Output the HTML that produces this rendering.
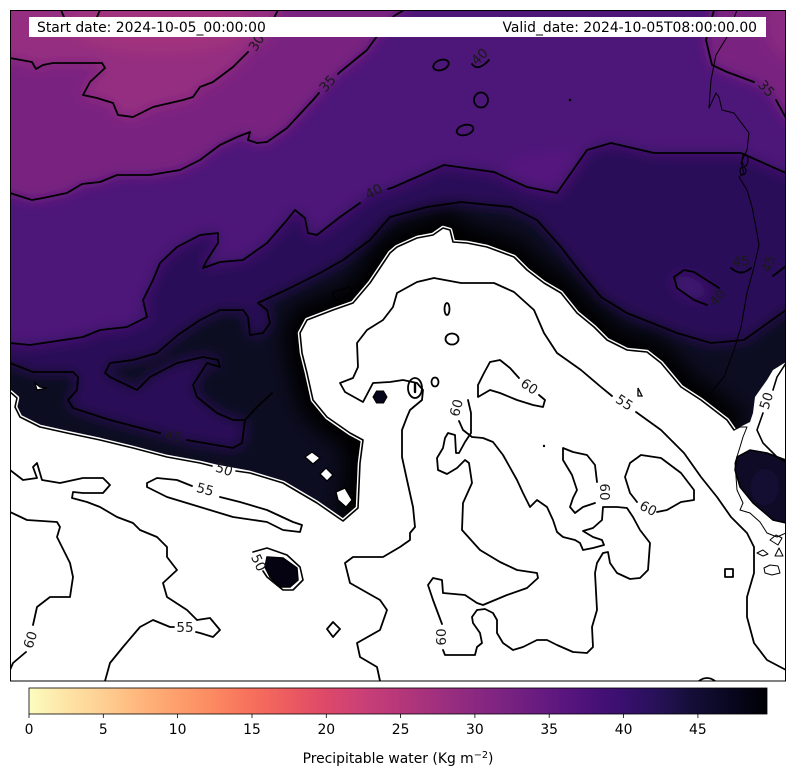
<!DOCTYPE html>
<html><head><meta charset="utf-8">
<style>
html,body{margin:0;padding:0;background:#fff;}
svg{display:block;}
text{font-family:"DejaVu Sans","Liberation Sans",sans-serif;}
</style></head>
<body>
<svg width="794" height="780" viewBox="0 0 794 780" xmlns="http://www.w3.org/2000/svg">
<defs>
  <clipPath id="mapclip"><rect x="10" y="10" width="776" height="671"/></clipPath>
  <filter id="blur" x="-20%" y="-20%" width="140%" height="140%"><feGaussianBlur stdDeviation="7"/></filter>
  <filter id="blur2" x="-20%" y="-20%" width="140%" height="140%"><feGaussianBlur stdDeviation="10"/></filter>
  <linearGradient id="cbar" x1="0" y1="0" x2="1" y2="0">
    <stop offset="0" stop-color="#fcfdbf"/>
    <stop offset="0.05" stop-color="#fde4a6"/>
    <stop offset="0.1" stop-color="#fecf92"/>
    <stop offset="0.15" stop-color="#feb67c"/>
    <stop offset="0.2" stop-color="#fe9f6d"/>
    <stop offset="0.25" stop-color="#fc8961"/>
    <stop offset="0.3" stop-color="#f7705c"/>
    <stop offset="0.35" stop-color="#ec5c60"/>
    <stop offset="0.4" stop-color="#de4968"/>
    <stop offset="0.45" stop-color="#cb4077"/>
    <stop offset="0.5" stop-color="#b73779"/>
    <stop offset="0.55" stop-color="#a1307e"/>
    <stop offset="0.6" stop-color="#8c2981"/>
    <stop offset="0.65" stop-color="#782281"/>
    <stop offset="0.7" stop-color="#641a80"/>
    <stop offset="0.75" stop-color="#4f127b"/>
    <stop offset="0.8" stop-color="#3b0f70"/>
    <stop offset="0.85" stop-color="#271159"/>
    <stop offset="0.9" stop-color="#140e36"/>
    <stop offset="0.95" stop-color="#090720"/>
    <stop offset="1" stop-color="#000004"/>
  </linearGradient>
</defs>

<g clip-path="url(#mapclip)">
  <!-- smooth field -->
  <g filter="url(#blur)">
    <rect x="-40" y="-40" width="880" height="780" fill="#4e1479"/>
    <ellipse cx="560" cy="175" rx="60" ry="25" fill="#55167e"/>
    <path fill="#7a2380" d="M-30,-30 L410,-30 L404,10 L394,16 L380,32 L367,50 L340,72 L328,83 L313,100 L287,128 L267,142 L257,143 L248,140 L250,132 L237,137 L220,145 L200,160 L180,170 L150,175 L117,175 L100,182 L82,184 L67,193 L43,198 L32,200 L10,193 L-30,193 Z"/>
    <path fill="#7a2380" d="M714,-30 L714,10 L710,25 L706,40 L712,65 L727,72 L754,82 L766,88 L776,100 L786,118 L826,150 L826,-30 Z"/>
    <ellipse cx="795" cy="20" rx="30" ry="40" fill="#8a2980"/>
    <path fill="#952f80" d="M-30,-30 L290,-30 L278,10 L267,35 L257,43 L248,52 L233,67 L213,82 L200,87 L193,97 L183,100 L153,107 L133,117 L118,115 L113,103 L97,98 L83,95 L90,82 L105,68 L102,63 L53,63 L43,65 L36,69 L32,62 L10,58 L-30,56 Z"/>
    <ellipse cx="160" cy="25" rx="90" ry="28" fill="#a1337e"/>
    <path fill="#2a0f58" d="M-30,343 L10,343 L30,345 L50,342 L83,337 L100,330 L127,327 L147,317 L143,300 L153,280 L160,263 L177,247 L200,235 L218,233 L218,243 L207,260 L203,268 L220,262 L243,260 L267,243 L287,220 L295,210 L305,218 L308,233 L317,235 L363,200 L373,192 L394,187 L444,165 L494,172 L527,187 L557,193 L587,150 L611,143 L654,153 L741,153 L786,173 L826,180 L826,720 L-30,720 Z"/>
    <ellipse cx="690" cy="287" rx="18" ry="9" transform="rotate(25 690 287)" fill="#431274"/>
    <path fill="#0b0820" d="M-30,366 L10,363 L33,372 L73,372 L78,377 L77,390 L68,400 L73,408 L110,420 L160,433 L187,440 L233,448 L242,443 L245,420 L233,420 L217,413 L197,397 L193,385 L207,363 L220,367 L218,360 L203,357 L177,363 L150,377 L137,390 L110,377 L105,373 L110,363 L133,360 L157,353 L178,335 L200,320 L220,310 L243,310 L248,317 L250,335 L263,333 L270,323 L267,310 L258,303 L290,288 L320,273 L343,260 L370,240 L390,217 L427,207 L461,202 L511,207 L537,220 L561,247 L581,273 L601,297 L627,313 L677,333 L711,343 L744,340 L786,310 L826,300 L826,720 L-30,720 Z"/>
  </g>
  <!-- extra darkening close to the white region (right part) -->
  <path filter="url(#blur2)" fill="none" stroke="#000" stroke-width="34" stroke-linejoin="round" d="M343,521 L358,508 L360,463 L363,440 L350,433 L327,417 L313,400 L307,373 L302,353 L300,333 L307,320 L320,315 L333,310 L353,303 L370,283 L390,253 L397,247 L417,238 L433,235 L443,228 L450,230 L453,242 L467,243 L487,247 L514,257 L527,270 L544,283 L561,293 L577,313 L594,327 L607,340 L627,350 L647,352 L661,363 L681,387 L701,400 L714,410 L727,420 L734,430"/>

  <!-- white (above colour range) region -->
  <path fill="#ffffff" d="M10,392 L17,398 L15,407 L20,417 L40,427 L67,433 L100,440 L133,448 L167,457 L200,463 L217,467 L250,473 L283,483 L317,503 L343,521 L358,508 L360,463 L363,440 L350,433 L327,417 L313,400 L307,373 L302,353 L300,333 L307,320 L320,315 L333,310 L353,303 L370,283 L390,253 L397,247 L417,238 L433,235 L443,228 L450,230 L453,242 L467,243 L487,247 L514,257 L527,270 L544,283 L561,293 L577,313 L594,327 L607,340 L627,350 L647,352 L661,363 L681,387 L701,400 L714,410 L727,420 L734,430 L740,427 L750,422 L753,413 L755,397 L767,380 L773,370 L786,362 L786,690 L0,690 L0,392 Z"/>

  <!-- dark blobs inside white -->
  <path fill="#050312" stroke="#000" stroke-width="1.5" d="M267,557 L283,558 L297,568 L298,580 L290,587 L280,587 L270,577 L265,567 Z"/>
  <polygon fill="#07051a" stroke="#000" stroke-width="1" points="387,397 383.5,403 376.5,403 373,397 376.5,391 383.5,391"/>
  <path fill="#0f0b26" stroke="#000" stroke-width="1.5" d="M737,457 L750,450 L767,453 L786,460 L786,523 L773,520 L753,503 L740,487 L735,470 Z"/>
  <ellipse cx="765" cy="487" rx="14" ry="18" fill="#17113a" opacity="0.6"/>

  <!-- white bits in dark tongue -->
  <g fill="#fff" stroke="#000" stroke-width="1.3">
    <path d="M305,457 L312,452 L320,458 L313,464 Z"/>
    <path d="M320,474 L326,468 L333,475 L327,481 Z"/>
    <path d="M336,492 L345,488 L352,500 L346,507 L338,500 Z"/>
    <path d="M333,292 L350,287 L353,297 L343,303 L333,297 Z" fill="none"/>
    <path d="M35,383 L40,387 L47,388 L37,390 Z"/>
  </g>

  <!-- white halo along 50 contour -->
  <g fill="none" stroke="#fff" stroke-width="4.5" stroke-linejoin="round">
    <path d="M10,392 L17,398 L15,407 L20,417 L40,427 L67,433 L100,440 L133,448 L167,457 L200,463 L217,467 L250,473 L283,483 L317,503 L343,521 L358,508 L360,463 L363,440 L350,433 L327,417 L313,400 L307,373 L302,353 L300,333 L307,320 L320,315 L333,310 L353,303 L370,283 L390,253 L397,247 L417,238 L433,235 L443,228 L450,230 L453,242 L467,243 L487,247 L514,257 L527,270 L544,283 L561,293 L577,313 L594,327 L607,340 L627,350 L647,352 L661,363 L681,387 L701,400 L714,410 L727,420 L734,430"/>
  </g>

  <!-- contour lines -->
  <g fill="none" stroke="#000" stroke-width="1.8" stroke-linejoin="round" stroke-linecap="round">
    <!-- 25 -->
    <path d="M61,10 L64,17"/><path d="M97,17 L100,10"/>
    <!-- 30 -->
    <path d="M10,58 L32,62 L36,69 L43,65 L53,63 L102,63 L105,68 L90,82 L83,95 L97,98 L113,103 L118,115 L133,117 L153,107 L183,100 L193,97 L200,87 L213,82 L233,67 L248,52"/>
    <path d="M265,36 L278,10"/>
    <!-- 35 -->
    <path d="M10,193 L32,200 L43,198 L67,193 L82,184 L100,182 L117,175 L150,175 L180,170 L200,160 L220,145 L237,137 L250,132 L248,140 L257,143 L267,142 L287,128 L313,100 L319,93"/>
    <path d="M338,74 L340,72 L367,50 L380,32 L394,16 L404,10"/>
    <path d="M714,10 L710,25 L706,40 L712,65 L727,72 L754,82"/>
    <path d="M776,100 L786,118"/>
    <!-- 40 -->
    <path d="M10,343 L30,345 L50,342 L83,337 L100,330 L127,327 L147,317 L143,300 L153,280 L160,263 L177,247 L200,235 L218,233 L218,243 L207,260 L203,268 L220,262 L243,260 L267,243 L287,220 L295,210 L305,218 L308,233 L317,235 L340,217 L360,203"/>
    <path d="M388,189 L394,187 L444,165 L494,172 L527,187 L557,193 L587,150 L611,143 L654,153 L741,153 L786,173"/>
    <path d="M719,288 L694,272 L684,270 L674,277 L677,288 L694,300 L707,305"/>
    <path d="M472,64 Q478,72 489,60"/>
    <ellipse cx="441" cy="65" rx="8" ry="5" transform="rotate(-20 441 65)"/>
    <ellipse cx="481" cy="100" rx="7" ry="7.5"/>
    <ellipse cx="465" cy="130" rx="8.5" ry="5" transform="rotate(-15 465 130)"/>
    <!-- 45 -->
    <path d="M10,363 L33,372 L73,372 L78,377 L77,390 L68,400 L73,408 L110,420 L160,433"/>
    <path d="M187,440 L233,448 L242,443 L245,420 L233,420 L217,413 L197,397 L193,385 L207,363 L220,367 L218,360 L203,357 L177,363 L150,377 L137,390 L110,377 L105,373 L110,363 L133,360 L157,353 L178,335 L200,320 L220,310 L243,310 L248,317 L250,335 L263,333 L270,323 L267,310 L258,303 L290,288 L320,273 L343,260 L370,240 L390,217 L427,207 L461,202 L511,207 L537,220 L561,247 L581,273 L601,297 L627,313 L677,333 L711,343 L744,340 L786,310"/>
    <path d="M245,420 L257,407 L272,393"/>
    <path d="M731,268 Q741,277 751,268"/>
    <path d="M773,276 L786,266"/>
    <!-- 50 (white boundary) -->
    <path stroke-width="1.6" d="M10,392 L17,398 L15,407 L20,417 L40,427 L67,433 L100,440 L133,448 L167,457 L200,463 L212,466"/>
    <path stroke-width="1.6" d="M236,471 L250,473 L283,483 L317,503 L343,521 L358,508 L360,463 L363,440 L350,433 L327,417 L313,400 L307,373 L302,353 L300,333 L307,320 L320,315 L333,310 L353,303 L370,283 L390,253 L397,247 L417,238 L433,235 L443,228 L450,230 L453,242 L467,243 L487,247 L514,257 L527,270 L544,283 L561,293 L577,313 L594,327 L607,340 L627,350 L647,352 L661,363 L681,387 L701,400 L714,410 L727,420 L734,430"/>
    <path stroke-width="1.6" d="M786,363 L777,377 L773,390"/>
    <path stroke-width="1.6" d="M763,413 L757,430 L763,443 L777,457 L786,462"/>
    <path stroke-width="1.6" d="M253,552 L267,548 L287,555 L300,567 L303,580 L293,590 L283,590 L267,577 L263,571"/>
    <!-- 55 -->
    <path d="M380,681 L377,667 L360,657 L357,643 L380,630 L387,610 L380,600 L350,583 L345,563 L353,557 L383,557 L400,547 L410,540 L410,533 L415,527 L413,507 L407,480 L402,457 L402,430 L407,417 L410,410 L422,400 L423,390 L417,383 L403,380 L390,382 L373,383 L363,402 L345,392 L340,383 L353,378 L358,367 L357,343 L367,330 L383,320 L393,307 L397,293 L417,282 L434,278 L461,283 L494,283 L514,292 L534,310 L544,333 L557,353 L581,370 L601,387 L612,396"/>
    <path d="M636,412 L661,430 L684,453 L701,477 L717,497 L731,517 L747,533 L754,547 L754,573 L747,597 L747,617 L754,643 L767,660 L786,670"/>
    <path d="M220,497 L240,502 L267,510 L293,522 L302,525 L300,532 L283,530 L267,522 L233,517 L200,507 L167,497 L147,487 L147,483 L157,478 L177,480 L192,486"/>
    <path d="M10,470 L23,480 L37,478 L33,467 L37,463 L42,480 L60,483 L83,478 L103,478 L110,485 L103,493 L83,493 L73,492 L72,498 L87,502 L100,507 L117,517 L133,523 L140,530 L157,537 L167,547 L167,557 L177,570 L163,583 L167,597 L187,610 L197,620 L210,618 L220,630 L213,637 L200,633 L196,632"/>
    <path d="M174,627 L170,627 L153,620 L140,627 L123,647 L110,663 L105,681"/>
    <!-- 60 -->
    <path d="M10,512 L27,520 L57,522 L60,527 L57,537 L70,563 L73,577 L70,597 L50,597 L37,607 L33,625"/>
    <path d="M26,652 L13,663 L10,670"/>
    <path d="M327,629 L333,622 L340,629 L333,637 Z"/>
    <path d="M468,400 L471,413 L471,433 L465,442 L459,453 L456,453 L455,435 L448,433 L445,438 L443,448 L437,458 L438,470 L447,474 L457,468 L465,460 L469,463 L472,483 L463,503 L462,530 L480,550 L500,562 L517,570 L537,573 L538,578 L527,588 L507,595 L483,605 L477,603 L465,595 L443,593 L442,580 L433,578 L428,585 L433,600 L442,624"/>
    <path d="M443,650 L445,655 L475,655 L477,647 L482,643 L480,633 L473,623 L472,617 L477,610 L485,609 L493,613 L497,620 L497,633 L503,643 L513,650 L523,647 L537,640 L547,640 L557,645 L573,652 L587,653 L593,647 L592,627 L597,610 L595,573 L597,563 L603,553 L608,552 L610,563 L617,573 L630,579 L640,578 L648,570 L650,543 L640,530 L633,517 L627,508 L617,507 L603,507 L602,520 L593,528 L583,531 L593,537 L602,540 L604,545 L593,548 L583,550 L580,543 L575,540 L563,537 L557,532 L553,520 L547,507 L537,500 L530,507 L523,493 L517,480 L503,455 L493,442 L483,438 L472,437 L463,430 L459,421"/>
    <path d="M597,482 L595,465 L587,455 L573,452 L563,448 L563,460 L572,475 L577,490 L573,498 L570,507 L575,513 L583,507 L595,503"/>
    <path d="M657,512 L667,510 L681,502 L694,500 L694,490 L681,473 L661,458 L641,455 L630,463 L625,477 L630,493 L637,502"/>
    <path d="M519,378 L510,368 L500,360 L490,362 L484,373 L478,385 L478,397 L490,390 L500,393 L517,400 L533,405 L543,407 L545,400 L539,395"/>
    <ellipse cx="447" cy="309" rx="2.5" ry="6"/>
    <ellipse cx="452" cy="339" rx="6.5" ry="5.5"/>
    <ellipse cx="435" cy="382" rx="3.5" ry="4.5"/>
    <ellipse cx="415" cy="388" rx="7" ry="10"/>
    <path d="M415,384 L415,392" stroke-width="2.4"/>
    <rect x="725" y="569" width="8" height="8"/>
    <path d="M699,681 Q707,675 715,681"/>
  </g>
  <circle cx="570" cy="100" r="1.3" fill="#000"/>
  <circle cx="544" cy="446" r="1.2" fill="#000"/>
  <path d="M638,388 L640,392 L642,396 L638,396 Z" fill="none" stroke="#000" stroke-width="1.3"/>

  <!-- coastlines -->
  <g fill="none" stroke="#000" stroke-width="1" stroke-linejoin="round">
    <path d="M737,10 L727,37 L716,55 L711,80 L709,108 L716,93 L719,97 L722,110 L734,113 L737,117 L749,133 L747,150 L741,163 L744,173 L739,177 L747,190 L752,207 L757,233 L759,245 L754,267 L747,293 L741,327 L734,350 L724,377 L707,397"/>
    <ellipse cx="745" cy="160" rx="3" ry="6"/>
    <ellipse cx="743" cy="171" rx="3" ry="4"/>
    <path d="M734,430 L740,427 L747,427 L743,437 L740,447 L735,463 L737,490 L743,503 L740,510 L750,513 L760,522 L767,533 L777,537 L786,533"/>
    <path d="M757,553 L763,550 L768,554 L763,556 Z"/>
    <path d="M775,556 L779,548 L783,556 Z"/>
    <path d="M764,568 L770,565 L778,566 L780,573 L772,575 L765,573 Z"/>
    <path d="M770,540 L776,535 L782,538 L778,545 Z"/>
  </g>

  <!-- contour labels -->
  <g fill="#1a1a1a" font-size="13.5" text-anchor="middle" dominant-baseline="central">
    <text transform="translate(257,43) rotate(-58)">30</text>
    <text transform="translate(328,84) rotate(-48)">35</text>
    <text transform="translate(374,192) rotate(-28)">40</text>
    <text transform="translate(480,57) rotate(-45)">40</text>
    <text transform="translate(766,89) rotate(48)">35</text>
    <text transform="translate(173,437) rotate(13)">45</text>
    <text transform="translate(224,470) rotate(18)">50</text>
    <text transform="translate(205,490) rotate(15)">55</text>
    <text transform="translate(185,628)">55</text>
    <text transform="translate(31,640) rotate(-72)">60</text>
    <text transform="translate(258,563) rotate(65)">50</text>
    <text transform="translate(457,408) rotate(-75)">60</text>
    <text transform="translate(529,387) rotate(35)">60</text>
    <text transform="translate(624,403) rotate(33)">55</text>
    <text transform="translate(604,492) rotate(90)">60</text>
    <text transform="translate(648,509) rotate(28)">60</text>
    <text transform="translate(442,637) rotate(-90)">60</text>
    <text transform="translate(741,262) rotate(-5)">45</text>
    <text transform="translate(769,264) rotate(-70)">45</text>
    <text transform="translate(718,298) rotate(-50)">40</text>
    <text transform="translate(767,401) rotate(-72)">50</text>
  </g>

  <!-- header box -->
  <rect x="29" y="17" width="737" height="20" fill="#ffffff"/>
  <text x="37" y="32" font-size="13.9" fill="#000">Start date: 2024-10-05_00:00:00</text>
  <text x="757" y="32" font-size="13.9" fill="#000" text-anchor="end">Valid_date: 2024-10-05T08:00:00.00</text>
</g>
<rect x="10.5" y="10.5" width="775" height="670.5" fill="none" stroke="#000" stroke-width="1"/>

<!-- colorbar -->
<rect x="29" y="688" width="738" height="26" fill="url(#cbar)"/>
<rect x="29" y="688" width="738" height="26" fill="none" stroke="#000" stroke-width="0.8"/>
<g stroke="#000" stroke-width="0.8">
  <line x1="29" y1="714" x2="29" y2="718"/>
  <line x1="103.3" y1="714" x2="103.3" y2="718"/>
  <line x1="177.6" y1="714" x2="177.6" y2="718"/>
  <line x1="252" y1="714" x2="252" y2="718"/>
  <line x1="326.3" y1="714" x2="326.3" y2="718"/>
  <line x1="400.6" y1="714" x2="400.6" y2="718"/>
  <line x1="474.9" y1="714" x2="474.9" y2="718"/>
  <line x1="549.2" y1="714" x2="549.2" y2="718"/>
  <line x1="623.6" y1="714" x2="623.6" y2="718"/>
  <line x1="697.9" y1="714" x2="697.9" y2="718"/>
</g>
<g font-size="13.9" fill="#000" text-anchor="middle">
  <text x="29" y="734">0</text>
  <text x="103.3" y="734">5</text>
  <text x="177.6" y="734">10</text>
  <text x="252" y="734">15</text>
  <text x="326.3" y="734">20</text>
  <text x="400.6" y="734">25</text>
  <text x="474.9" y="734">30</text>
  <text x="549.2" y="734">35</text>
  <text x="623.6" y="734">40</text>
  <text x="697.9" y="734">45</text>
  <text x="398" y="763">Precipitable water (Kg m<tspan font-size="9.7" dy="-5">−2</tspan><tspan dy="5">)</tspan></text>
</g>
</svg>
</body></html>
